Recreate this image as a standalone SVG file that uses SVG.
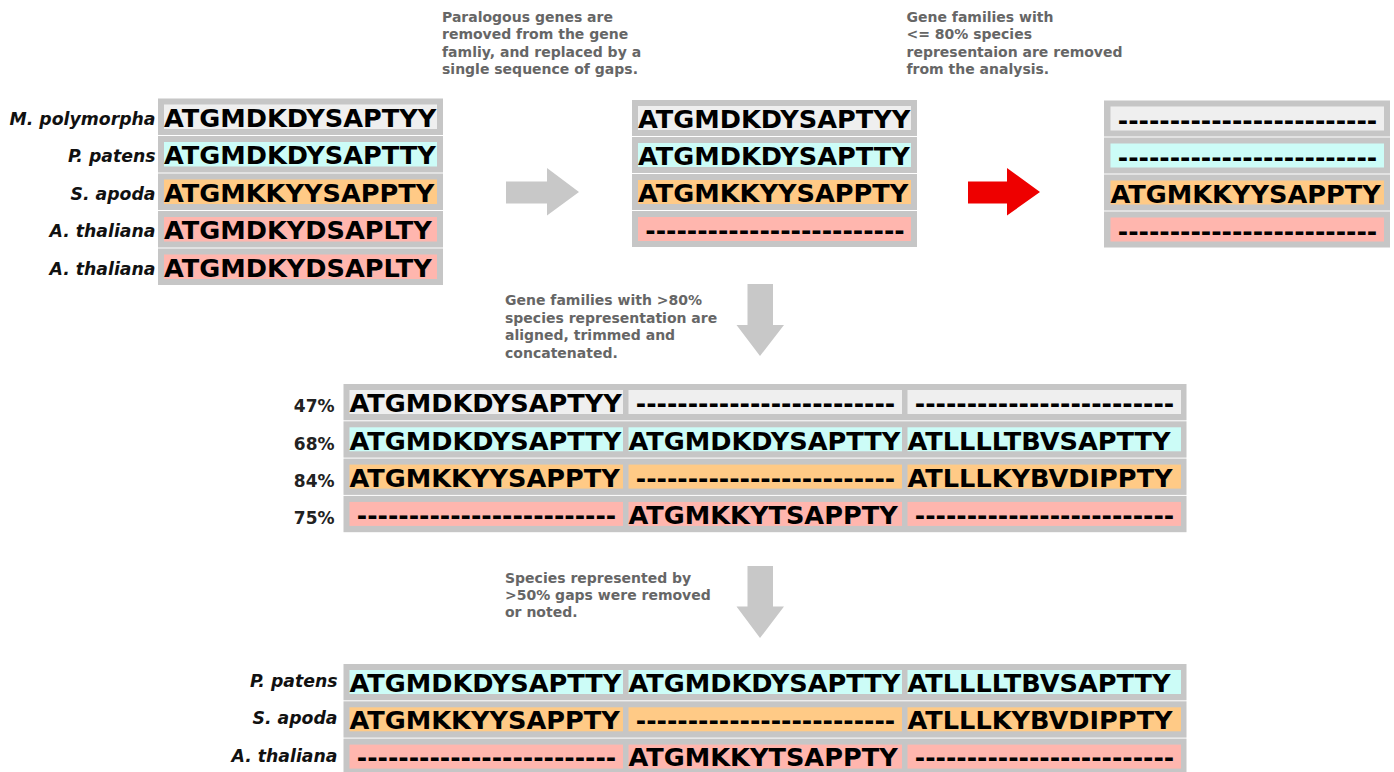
<svg xmlns="http://www.w3.org/2000/svg" width="1394" height="772" viewBox="0 0 1394 772">
<defs>
<style>
.bx{fill:#c6c6c6}
.g{fill:#efefef}.c{fill:#ccfcf7}.o{fill:#ffca86}.p{fill:#ffb6ae}
.seq{font-family:"DejaVu Sans",sans-serif;font-weight:bold;font-size:25.6px;fill:#000}
.dash{font-family:"DejaVu Sans",sans-serif;font-weight:bold;font-size:25px;fill:#000;text-anchor:middle}
.sp{font-family:"DejaVu Sans",sans-serif;font-weight:bold;font-style:italic;font-size:17.3px;fill:#111;text-anchor:end}
.pc{font-family:"DejaVu Sans",sans-serif;font-weight:bold;font-size:17px;fill:#222;text-anchor:end}
.note{font-family:"DejaVu Sans",sans-serif;font-weight:bold;font-size:14px;fill:#666}
.arr{fill:#c8c8c8}
.red{fill:#ee0000}
</style>
</defs>
<rect width="1394" height="772" fill="#fff"/>

<!-- annotations -->
<g id="note1" class="note">
<text x="442" y="21.5">Paralogous genes are</text>
<text x="442" y="39">removed from the gene</text>
<text x="442" y="56.5">famliy, and replaced by a</text>
<text x="442" y="74">single sequence of gaps.</text>
</g>
<g id="note2" class="note">
<text x="906.5" y="21.5">Gene families with</text>
<text x="906.5" y="39">&lt;= 80% species</text>
<text x="906.5" y="56.5">representaion are removed</text>
<text x="906.5" y="74">from the analysis.</text>
</g>
<g id="note3" class="note">
<text x="505" y="305">Gene families with &gt;80%</text>
<text x="505" y="322.5">species representation are</text>
<text x="505" y="340">aligned, trimmed and</text>
<text x="505" y="357.5">concatenated.</text>
</g>
<g id="note4" class="note">
<text x="505" y="583">Species represented by</text>
<text x="505" y="600">&gt;50% gaps were removed</text>
<text x="505" y="617">or noted.</text>
</g>

<!-- block 1: input gene family -->
<g id="family-input">
<g id="in-mpoly">
<rect class="bx" x="158" y="98.5" width="285" height="36.5"/>
<rect class="g" x="164" y="104.5" width="273" height="24.5"/>
<text class="seq" x="164" y="126.8">ATGMDKDYSAPTYY</text>
<text class="sp" x="155.5" y="124.5">M. polymorpha</text>
</g>
<g id="in-ppat">
<rect class="bx" x="158" y="136" width="285" height="36.5"/>
<rect class="c" x="164" y="142" width="273" height="24.5"/>
<text class="seq" x="164" y="164.3">ATGMDKDYSAPTTY</text>
<text class="sp" x="155.5" y="162">P. patens</text>
</g>
<g id="in-sapo">
<rect class="bx" x="158" y="173.5" width="285" height="36.5"/>
<rect class="o" x="164" y="179.5" width="273" height="24.5"/>
<text class="seq" x="164" y="201.8">ATGMKKYYSAPPTY</text>
<text class="sp" x="155.5" y="199.5">S. apoda</text>
</g>
<g id="in-atha1">
<rect class="bx" x="158" y="211" width="285" height="36.5"/>
<rect class="p" x="164" y="217" width="273" height="24.5"/>
<text class="seq" x="164" y="239.3">ATGMDKYDSAPLTY</text>
<text class="sp" x="155.5" y="237">A. thaliana</text>
</g>
<g id="in-atha2">
<rect class="bx" x="158" y="248.5" width="285" height="36.5"/>
<rect class="p" x="164" y="254.5" width="273" height="24.5"/>
<text class="seq" x="164" y="276.8">ATGMDKYDSAPLTY</text>
<text class="sp" x="155.5" y="274.5">A. thaliana</text>
</g>
</g>

<!-- block 2: paralogs replaced -->
<g id="family-deparalog">
<rect class="bx" x="632" y="100" width="285" height="36"/>
<rect class="g" x="638" y="106" width="273" height="24"/>
<text class="seq" x="638" y="128">ATGMDKDYSAPTYY</text>
<rect class="bx" x="632" y="137" width="285" height="36"/>
<rect class="c" x="638" y="143" width="273" height="24"/>
<text class="seq" x="638" y="165">ATGMDKDYSAPTTY</text>
<rect class="bx" x="632" y="174" width="285" height="36"/>
<rect class="o" x="638" y="180" width="273" height="24"/>
<text class="seq" x="638" y="202">ATGMKKYYSAPPTY</text>
<rect class="bx" x="632" y="211" width="285" height="36"/>
<rect class="p" x="638" y="217" width="273" height="24"/>
<text class="dash" x="775" y="239">-------------------------</text>
</g>

<!-- block 3: removed family -->
<g id="family-removed">
<rect class="bx" x="1104" y="100.5" width="286" height="36"/>
<rect class="g" x="1110.5" y="106.5" width="273.5" height="24"/>
<text class="dash" x="1247.5" y="128.5">-------------------------</text>
<rect class="bx" x="1104" y="137.5" width="286" height="36"/>
<rect class="c" x="1110.5" y="143.5" width="273.5" height="24"/>
<text class="dash" x="1247.5" y="165.5">-------------------------</text>
<rect class="bx" x="1104" y="174.5" width="286" height="36"/>
<rect class="o" x="1110.5" y="180.5" width="273.5" height="24"/>
<text class="seq" x="1110.5" y="202.5">ATGMKKYYSAPPTY</text>
<rect class="bx" x="1104" y="211.5" width="286" height="36"/>
<rect class="p" x="1110.5" y="217.5" width="273.5" height="24"/>
<text class="dash" x="1247.5" y="239.5">-------------------------</text>
</g>

<!-- block 4: concatenated alignment -->
<g id="concat-alignment">
<g id="cat-47">
<rect class="bx" x="343.5" y="384" width="843" height="36.3"/>
<rect class="g" x="349.5" y="390" width="273.5" height="24"/>
<rect class="g" x="628.5" y="390" width="273.5" height="24"/>
<rect class="g" x="907.5" y="390" width="273.5" height="24"/>
<text class="seq" x="349.5" y="412.3">ATGMDKDYSAPTYY</text>
<text class="dash" x="765.5" y="412.3">-------------------------</text>
<text class="dash" x="1044.5" y="412.3">-------------------------</text>
<text class="pc" x="334.5" y="412.3">47%</text>
</g>
<g id="cat-68">
<rect class="bx" x="343.5" y="421.3" width="843" height="36.3"/>
<rect class="c" x="349.5" y="427.3" width="273.5" height="24"/>
<rect class="c" x="628.5" y="427.3" width="273.5" height="24"/>
<rect class="c" x="907.5" y="427.3" width="273.5" height="24"/>
<text class="seq" x="349.5" y="449.6">ATGMDKDYSAPTTY</text>
<text class="seq" x="628.5" y="449.6">ATGMDKDYSAPTTY</text>
<text class="seq" x="907.5" y="449.6">ATLLLLTBVSAPTTY</text>
<text class="pc" x="334.5" y="449.6">68%</text>
</g>
<g id="cat-84">
<rect class="bx" x="343.5" y="458.6" width="843" height="36.3"/>
<rect class="o" x="349.5" y="464.6" width="273.5" height="24"/>
<rect class="o" x="628.5" y="464.6" width="273.5" height="24"/>
<rect class="o" x="907.5" y="464.6" width="273.5" height="24"/>
<text class="seq" x="349.5" y="486.9">ATGMKKYYSAPPTY</text>
<text class="dash" x="765.5" y="486.9">-------------------------</text>
<text class="seq" x="907.5" y="486.9">ATLLLKYBVDIPPTY</text>
<text class="pc" x="334.5" y="486.9">84%</text>
</g>
<g id="cat-75">
<rect class="bx" x="343.5" y="495.9" width="843" height="36.3"/>
<rect class="p" x="349.5" y="501.9" width="273.5" height="24"/>
<rect class="p" x="628.5" y="501.9" width="273.5" height="24"/>
<rect class="p" x="907.5" y="501.9" width="273.5" height="24"/>
<text class="dash" x="486.5" y="524.2">-------------------------</text>
<text class="seq" x="628.5" y="524.2">ATGMKKYTSAPPTY</text>
<text class="dash" x="1044.5" y="524.2">-------------------------</text>
<text class="pc" x="334.5" y="524.2">75%</text>
</g>
</g>

<!-- block 5: final matrix -->
<g id="final-matrix">
<g id="fin-ppat">
<rect class="bx" x="343.5" y="664" width="843" height="36.3"/>
<rect class="c" x="349.5" y="670" width="273.5" height="24"/>
<rect class="c" x="628.5" y="670" width="273.5" height="24"/>
<rect class="c" x="907.5" y="670" width="273.5" height="24"/>
<text class="seq" x="349.5" y="691.8">ATGMDKDYSAPTTY</text>
<text class="seq" x="628.5" y="691.8">ATGMDKDYSAPTTY</text>
<text class="seq" x="907.5" y="691.8">ATLLLLTBVSAPTTY</text>
<text class="sp" x="337.5" y="686.5">P. patens</text>
</g>
<g id="fin-sapo">
<rect class="bx" x="343.5" y="701.3" width="843" height="36.3"/>
<rect class="o" x="349.5" y="707.3" width="273.5" height="24"/>
<rect class="o" x="628.5" y="707.3" width="273.5" height="24"/>
<rect class="o" x="907.5" y="707.3" width="273.5" height="24"/>
<text class="seq" x="349.5" y="729.1">ATGMKKYYSAPPTY</text>
<text class="dash" x="765.5" y="729.1">-------------------------</text>
<text class="seq" x="907.5" y="729.1">ATLLLKYBVDIPPTY</text>
<text class="sp" x="337.5" y="724">S. apoda</text>
</g>
<g id="fin-atha">
<rect class="bx" x="343.5" y="738.6" width="843" height="36.3"/>
<rect class="p" x="349.5" y="744.6" width="273.5" height="24"/>
<rect class="p" x="628.5" y="744.6" width="273.5" height="24"/>
<rect class="p" x="907.5" y="744.6" width="273.5" height="24"/>
<text class="dash" x="486.5" y="766.4">-------------------------</text>
<text class="seq" x="628.5" y="766.4">ATGMKKYTSAPPTY</text>
<text class="dash" x="1044.5" y="766.4">-------------------------</text>
<text class="sp" x="337.5" y="762">A. thaliana</text>
</g>
</g>

<!-- connectors -->
<g id="connectors">
<polygon class="arr" points="506,181.5 547,181.5 547,168 579,192 547,215.5 547,203.5 506,203.5"/>
<polygon class="red" points="968,181.5 1007,181.5 1007,168 1040,192 1007,215.5 1007,203.5 968,203.5"/>
<polygon class="arr" points="747.5,284 773,284 773,325 784,325 760,356 736.5,325 747.5,325"/>
<polygon class="arr" points="747.5,566 773,566 773,606.5 784,606.5 760,638 736.5,606.5 747.5,606.5"/>
</g>
</svg>
